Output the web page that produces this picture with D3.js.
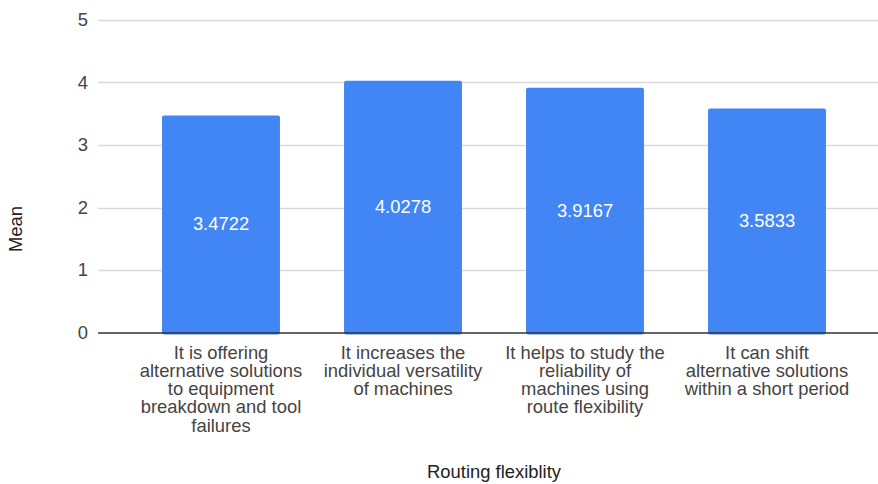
<!DOCTYPE html>
<html><head><meta charset="utf-8">
<script src="https://cdn.jsdelivr.net/npm/d3@7"></script>
<style>
body{margin:0;background:#fff;}
text{font-family:"Liberation Sans",Arial,sans-serif;}
</style></head>
<body><svg id="c" width="878" height="484"></svg>
<script>
const categories = [
  "It is offering alternative solutions to equipment breakdown and tool failures",
  "It increases the individual versatility of machines",
  "It helps to study the reliability of machines using route flexibility",
  "It can shift alternative solutions within a short period"
];
const means = [3.4722, 4.0278, 3.9167, 3.5833];
const valueLabels = ["3.4722", "4.0278", "3.9167", "3.5833"];
const yTicks = [0, 1, 2, 3, 4, 5];
const xTitle = "Routing flexiblity";
const yTitle = "Mean";

const svg = d3.select("#c");
const fs = 18.4;
const x = d3.scaleBand().domain(categories).range([130, 858]).paddingInner(0.352).paddingOuter(0.176);
const y = d3.scaleLinear().domain([0, 5]).range([332.5, 20]);

// gridlines
svg.append("g").selectAll("line").data(yTicks.filter(d => d > 0)).join("line")
  .attr("x1", 98).attr("x2", 878)
  .attr("y1", d => Math.round(y(d)) + 0.5).attr("y2", d => Math.round(y(d)) + 0.5)
  .attr("stroke", "#d9d9d9").attr("stroke-width", 1.3);

// y tick labels
svg.append("g").selectAll("text").data(yTicks).join("text")
  .attr("x", 88).attr("y", d => y(d)).attr("dy", "0.35em")
  .attr("text-anchor", "end").attr("font-size", fs).attr("fill", "#444")
  .text(d => d);

// bars
svg.append("g").selectAll("rect").data(means).join("rect")
  .attr("x", (d, i) => x(categories[i])).attr("width", x.bandwidth())
  .attr("y", d => y(d)).attr("height", d => y(0) - y(d) + 2)
  .attr("rx", 2).attr("fill", "#4285f4");

// baseline
svg.append("line").attr("x1", 98).attr("x2", 878)
  .attr("y1", y(0) + 0.5).attr("y2", y(0) + 0.5)
  .attr("stroke", "#333").attr("stroke-width", 1.5);

// value labels
svg.append("g").selectAll("text").data(means).join("text")
  .attr("x", (d, i) => x(categories[i]) + x.bandwidth() / 2)
  .attr("y", d => (y(d) + y(0)) / 2).attr("dy", "0.35em")
  .attr("text-anchor", "middle").attr("font-size", fs).attr("fill", "#fff")
  .text((d, i) => valueLabels[i]);

// x labels wrapped
const maxW = 168;
const xg = svg.append("g");
categories.forEach(c => {
  const t = xg.append("text").attr("font-size", fs).attr("fill", "#444")
    .attr("text-anchor", "middle");
  const cx = x(c) + x.bandwidth() / 2;
  const words = c.split(" ");
  let lines = [], cur = [];
  const probe = t.append("tspan");
  words.forEach(w => {
    const test = cur.concat([w]).join(" ");
    probe.text(test);
    if (probe.node().getComputedTextLength() > maxW && cur.length) {
      lines.push(cur.join(" ")); cur = [w];
    } else cur.push(w);
  });
  if (cur.length) lines.push(cur.join(" "));
  probe.remove();
  lines.forEach((l, i) => {
    t.append("tspan").attr("x", cx).attr("y", 358.5 + i * 18.3).text(l);
  });
});

// axis titles
svg.append("text").attr("x", 494).attr("y", 477.5).attr("text-anchor", "middle")
  .attr("font-size", fs).attr("fill", "#222").text(xTitle);
svg.append("text").attr("transform", "translate(22,229) rotate(-90)")
  .attr("text-anchor", "middle").attr("font-size", fs).attr("fill", "#222").text(yTitle);
</script></body></html>
